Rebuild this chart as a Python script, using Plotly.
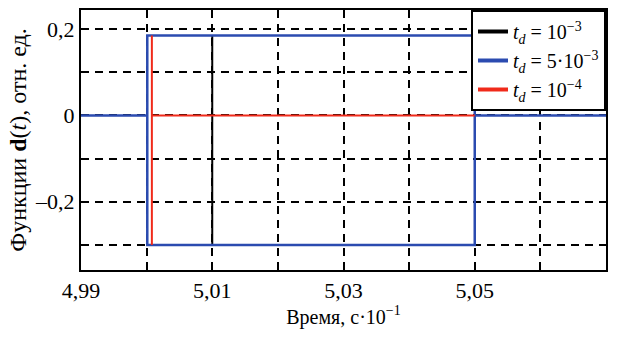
import plotly.graph_objects as go

# Data (time in units of 10^-1 s, amplitude in relative units)
black_x = [5.01, 5.01]
black_y = [-0.30, 0.185]

blue_x = [4.99, 5.0001, 5.0001, 5.05, 5.05, 5.0001, 5.0001, None, 5.05, 5.07]
blue_y = [0.0, 0.0, 0.185, 0.185, -0.30, -0.30, 0.0, None, 0.0, 0.0]

red_x = [5.0008, 5.0008, None, 5.0008, 5.05]
red_y = [0.185, -0.30, None, 0.0, 0.0]

x_ticks = [4.99, 5.00, 5.01, 5.02, 5.03, 5.04, 5.05, 5.06, 5.07]
x_labels = ["4,99", "", "5,01", "", "5,03", "", "5,05", "", "5,07"]
y_ticks = [-0.3, -0.2, -0.1, 0.0, 0.1, 0.2]
y_labels = ["", "\u20130,2", "", "0", "", "0,2"]

names = ["<i>t</i><sub><i>d</i></sub> = 10<sup>\u22123</sup>",
         "<i>t</i><sub><i>d</i></sub> = 5\u00b710<sup>\u22123</sup>",
         "<i>t</i><sub><i>d</i></sub> = 10<sup>\u22124</sup>"]
colors = ["black", "#2b4bb0", "#f02a1a"]

FONT = "Liberation Serif, Times New Roman, serif"

fig = go.Figure()
series = [(black_x, black_y, 2), (blue_x, blue_y, 2.5), (red_x, red_y, 2)]
for (xs, ys, w), c in zip(series, colors):
    fig.add_trace(go.Scatter(x=xs, y=ys, mode="lines", showlegend=False,
                             line=dict(color=c, width=w)))
# legend-only entries with thick short line symbols
for n, c in zip(names, colors):
    fig.add_trace(go.Scatter(x=[None], y=[None], mode="lines", name=n,
                             line=dict(color=c, width=4)))

axis_common = dict(showline=True, linecolor="black", linewidth=2, mirror=True,
                   showgrid=True, gridcolor="black", gridwidth=1.5, griddash="8px,6px",
                   zeroline=False, ticks="", automargin=False,
                   tickfont=dict(family=FONT, size=22, color="black"))

fig.update_xaxes(range=[4.99, 5.07], tickvals=x_ticks, ticktext=x_labels,
                 title=dict(text="Время, с·10<sup>\u22121</sup>", font=dict(family=FONT, size=20, color="black"),
                            standoff=6),
                 **axis_common)
fig.update_yaxes(range=[-0.358, 0.244], tickvals=y_ticks, ticktext=y_labels,
                 title=dict(text="Функции <b>d</b>(<i>t</i>), отн. ед.", font=dict(family=FONT, size=24, color="black"),
                            standoff=2),
                 **axis_common)

fig.update_layout(
    width=621, height=338,
    margin=dict(l=81, r=15, t=10, b=68),
    plot_bgcolor="white", paper_bgcolor="white",
    font=dict(family=FONT, color="black"),
    legend=dict(x=1, xanchor="right", y=1, yanchor="top",
                bgcolor="white", bordercolor="black", borderwidth=2,
                font=dict(family=FONT, size=20, color="black"),
                itemwidth=30, tracegroupgap=0),
)

fig.write_html("out.html", config={"displayModeBar": False},
               post_script="document.body.style.margin='0';")
